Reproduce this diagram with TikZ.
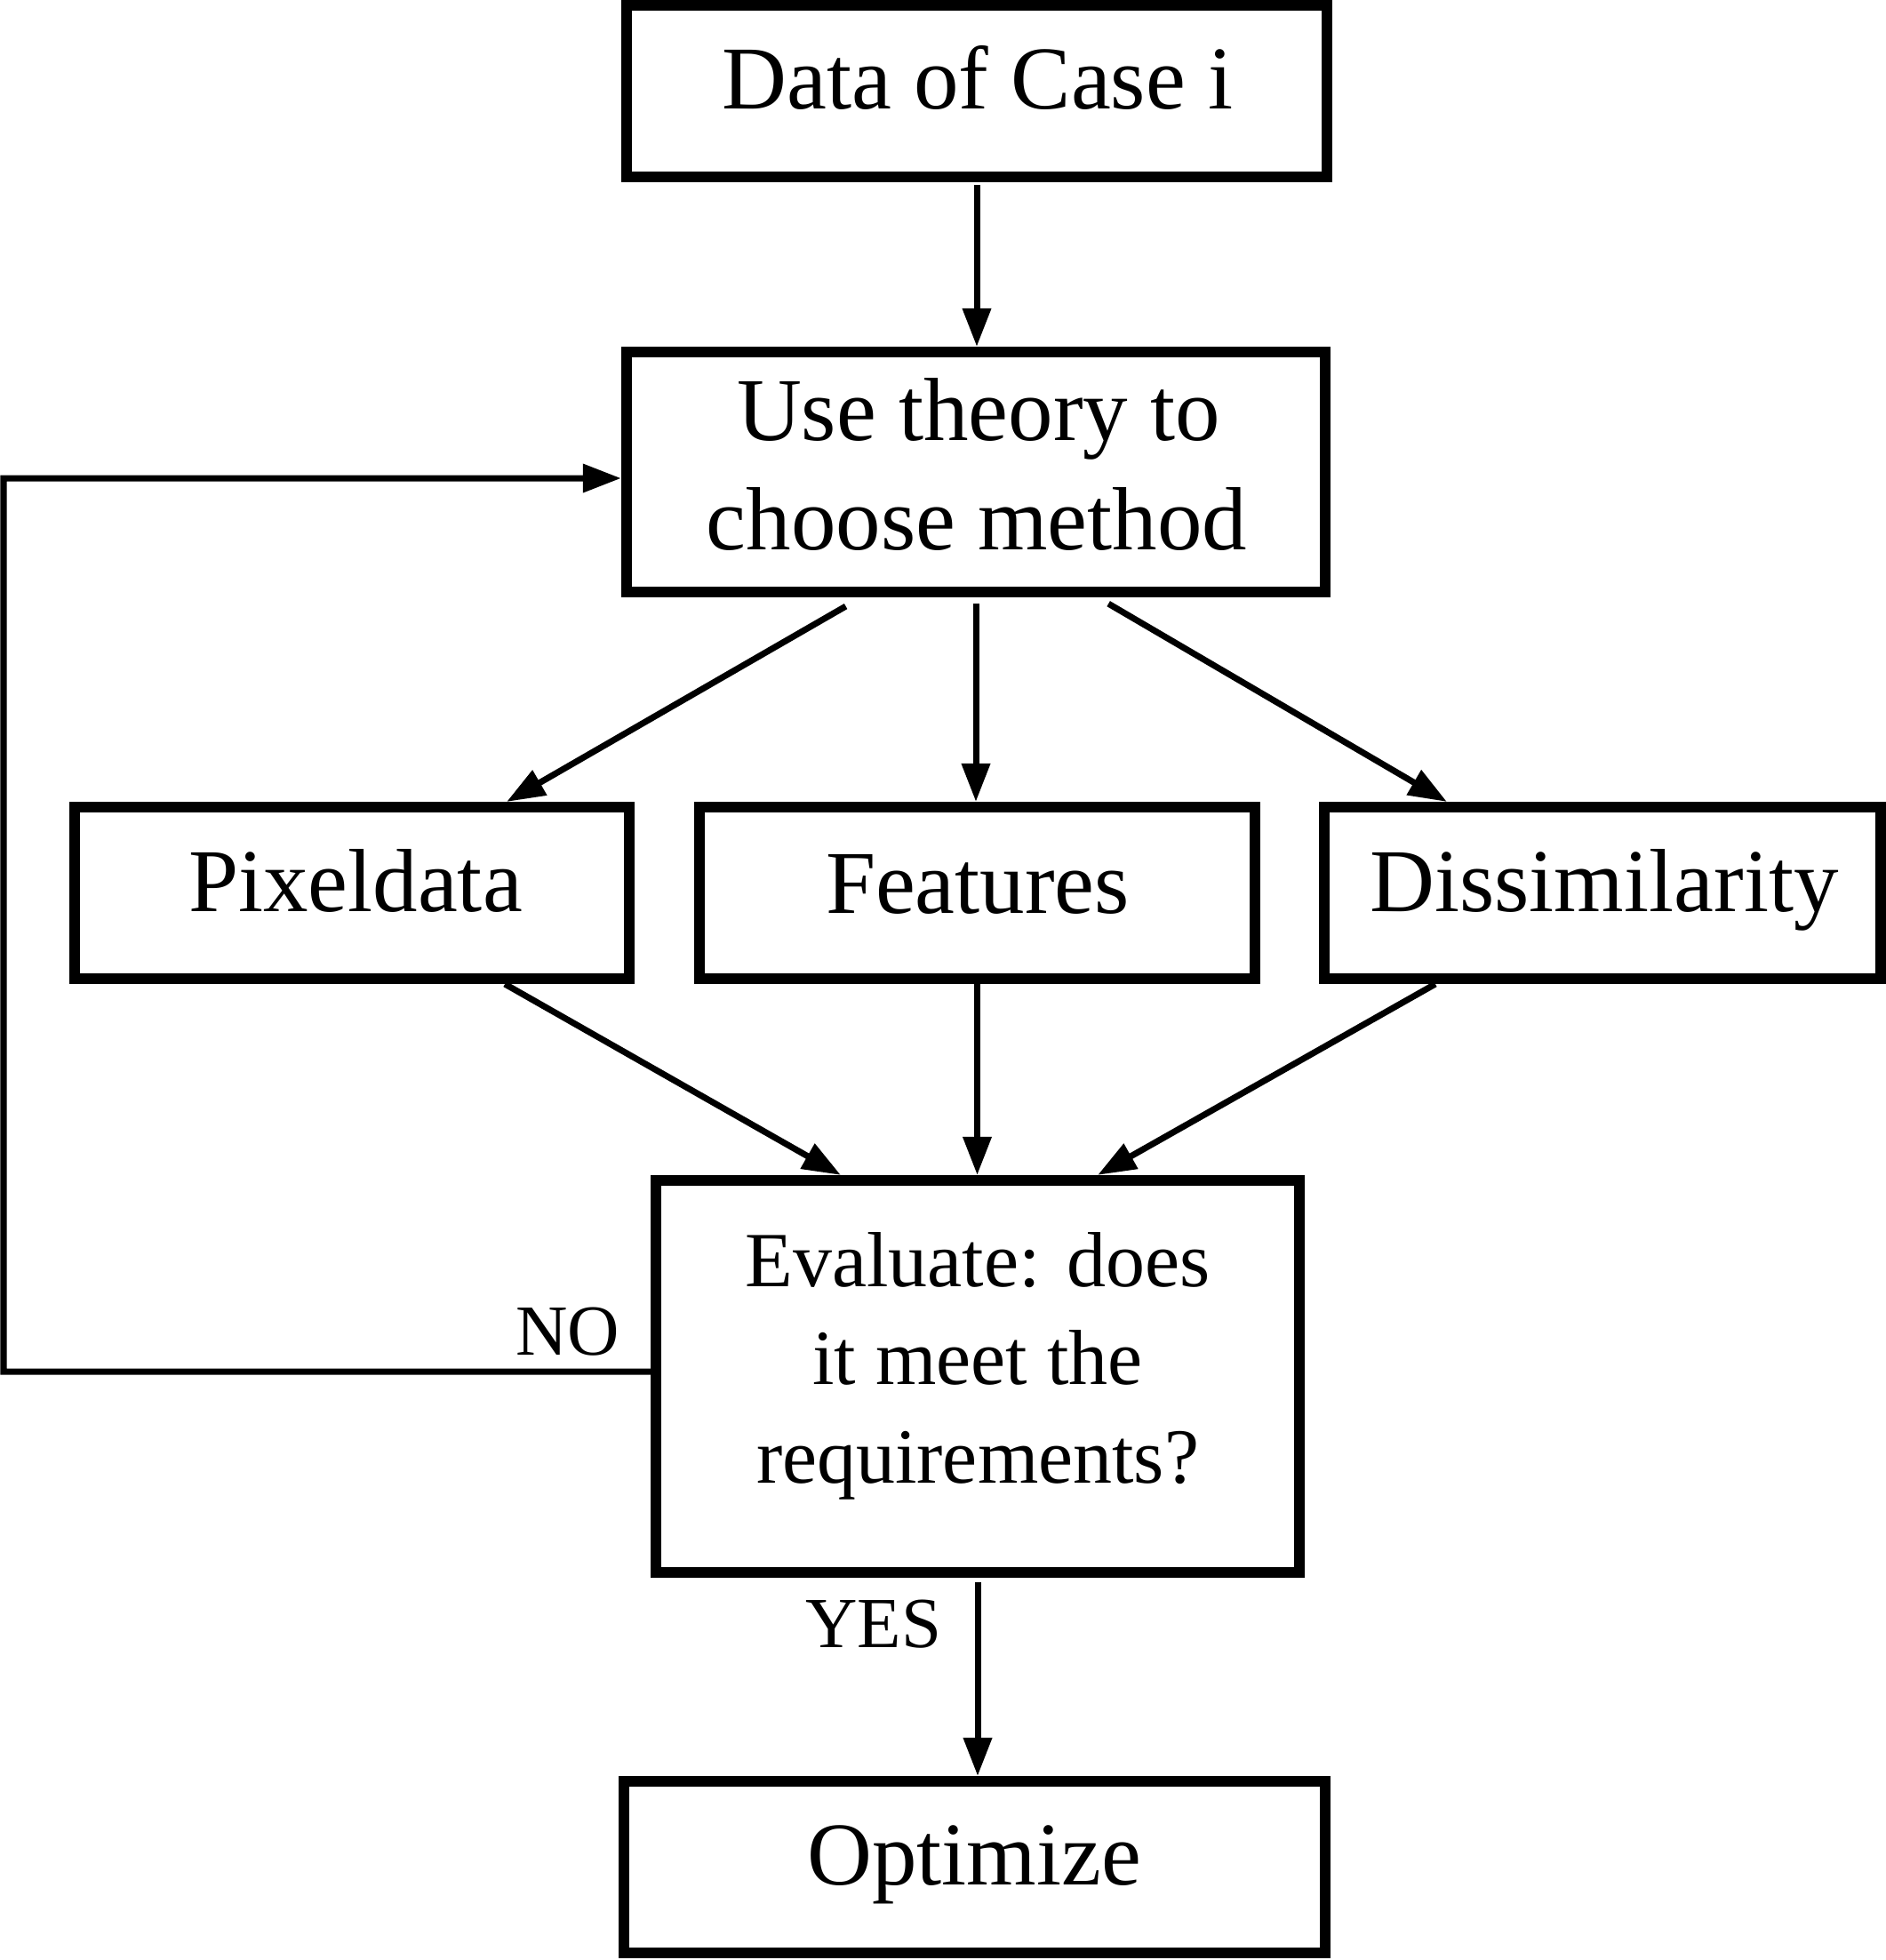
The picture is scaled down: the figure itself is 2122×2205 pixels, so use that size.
\documentclass[tikz,border=0pt]{standalone}
\usepackage{fontspec}
\setmainfont{Liberation Serif}
\usetikzlibrary{arrows.meta}
\begin{document}
\begin{tikzpicture}[x=0.01cm,y=-0.01cm,
  box/.style={draw, line width=0.12cm, inner sep=0pt, outer sep=0.06cm, line join=miter},
  main/.style={inner sep=0pt, font=\fontsize{28.7}{34}\selectfont, anchor=base},
  evtxt/.style={inner sep=0pt, font=\fontsize{25}{30}\selectfont, anchor=base},
  small/.style={inner sep=0pt, font=\fontsize{23}{28}\selectfont, anchor=base east},
  arr/.style={line width=0.07cm, line join=miter, -{Triangle[length=0.43cm,width=0.31cm]}}]
\useasboundingbox (0,0) rectangle (2122,2205);
% boxes
\node[box, minimum width=7.88cm, minimum height=1.93cm] (data) at (1099,102.5) {};
\node[box, minimum width=7.86cm, minimum height=2.70cm] (use) at (1098,531) {};
\node[box, minimum width=6.24cm, minimum height=1.93cm] (pix) at (396,1004.5) {};
\node[box, minimum width=6.25cm, minimum height=1.93cm] (feat) at (1099.5,1004.5) {};
\node[box, minimum width=6.26cm, minimum height=1.93cm] (dis) at (1803,1004.5) {};
\node[box, minimum width=7.24cm, minimum height=4.41cm] (eval) at (1100,1548.5) {};
\node[box, minimum width=7.89cm, minimum height=1.93cm] (opt) at (1096.5,2100.5) {};
% texts
\node[main] (tdata) at (1100,122) {Data of Case i};
\node[main] (tuse1) at (1101,495) {Use theory to};
\node[main] (tuse2) at (1099,618) {choose method};
\node[main] (tpix) at (400,1025) {Pixeldata};
\node[main] (tfeat) at (1100,1027) {Features};
\node[main] (tdis) at (1805,1025) {Dissimilarity};
\node[evtxt] (tev1) at (1100,1447) {Evaluate: does};
\node[evtxt] (tev2) at (1100,1557) {it meet the};
\node[evtxt] (tev3) at (1100,1668) {requirements?};
\node[main] (topt) at (1096,2120) {Optimize};
\node[small] (tno) at (698,1524) {NO};
\node[small] (tyes) at (1060,1853) {YES};
% connectors
\draw[arr, shorten <=0.03cm] (data.south) -- (data.south |- use.north);
\draw[arr, shorten <=0.2cm] ([xshift=-1.29cm]use.south) -- ([xshift=1.74cm]pix.north);
\draw[arr, shorten <=0.07cm] (use.south) -- (use.south |- feat.north);
\draw[arr, shorten <=0.14cm] ([xshift=1.37cm]use.south) -- ([xshift=-1.75cm]dis.north);
\draw[arr] ([xshift=1.72cm]pix.south) -- ([xshift=-1.54cm]eval.north);
\draw[arr] (feat.south) -- (feat.south |- eval.north);
\draw[arr] ([xshift=-1.88cm]dis.south) -- ([xshift=1.35cm]eval.north);
\draw[arr, shorten <=0.05cm] (eval.south) -- (eval.south |- opt.north);
\coordinate (loopb) at (4,1543);
\coordinate (loopt) at (4,538);
\draw[arr] ([yshift=0.055cm]eval.west) -- (loopb) -- (loopt) -- ([yshift=-0.07cm]use.west);
\end{tikzpicture}
\end{document}
